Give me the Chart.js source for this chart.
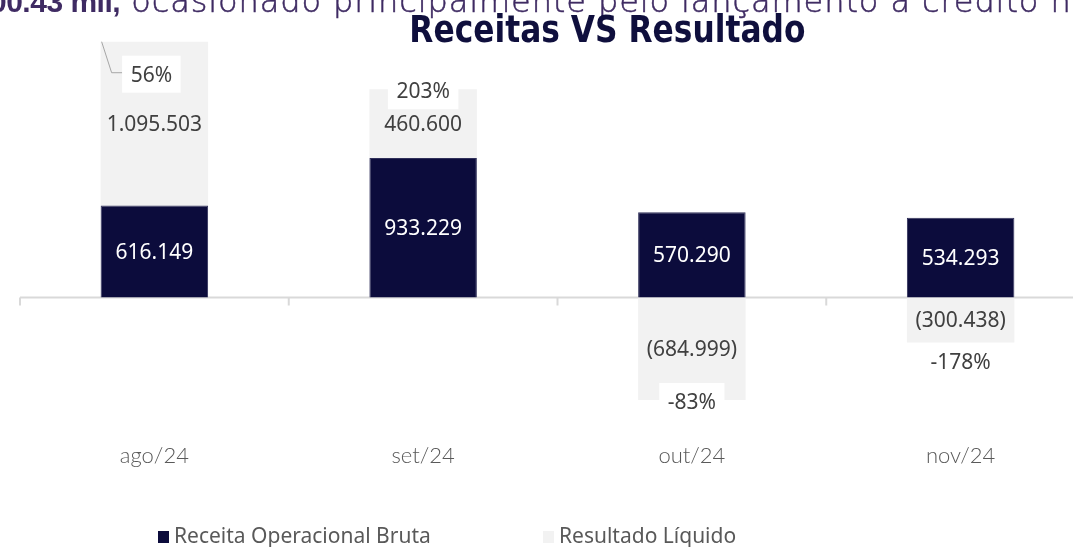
<!DOCTYPE html>
<html>
<head>
<meta charset="utf-8">
<script src="https://cdn.jsdelivr.net/npm/chart.js@4.4.1/dist/chart.umd.min.js"></script>
<style>
html, body { margin: 0; padding: 0; background: #fff; overflow: hidden; }
#wrap { position: relative; width: 1073px; height: 547px; overflow: hidden; }
#box { position: absolute; left: 0; top: 0; width: 1100px; height: 547px; }
#topo { position: absolute; left: -10px; top: -16px; white-space: nowrap; font-family: "DejaVu Sans"; font-weight: 200; font-size: 32px; line-height: 34px; letter-spacing: 0.9px; color: #3f2b63; -webkit-text-stroke: 0.5px #3f2b63; }
#topo b { font-family: "Liberation Sans", sans-serif; font-weight: bold; font-size: 30px; letter-spacing: -0.5px; line-height: 34px; -webkit-text-stroke: 0; }
#titulo { position: absolute; left: 0; width: 1215px; top: 11px; text-align: center; font-family: "DejaVu Sans"; font-weight: bold; font-size: 37px; line-height: 37px; color: #0f0f3d; transform: scaleX(0.846); transform-origin: 607px 0; }
</style>
</head>
<body>
<div id="wrap">
	<div id="box"><canvas id="grafico" width="1100" height="547"></canvas></div>
	<div id="topo"><b>00.43 mil,</b> ocasionado principalmente pelo lançamento a crédito n</div>
	<div id="titulo">Receitas VS Resultado</div>
</div>
<script>
// valores
const meses = ['ago/24', 'set/24', 'out/24', 'nov/24'];
const receita = [616149, 933229, 570290, 534293];
const resultado = [1095503, 460600, -684999, -300438];
const margem = [56, 203, -83, -178];

const corReceita = '#0c0c3c';
const corResultado = '#f2f2f2';

function fmt(v) {
	var s = Math.abs(v).toString().replace(/\B(?=(\d{3})+(?!\d))/g, '.');
	return v < 0 ? '(' + s + ')' : s;
}

// linha do zero, rotulos e legenda
const rotulos = {
	id: 'rotulos',
	beforeDatasetsDraw(chart) {
		const ctx = chart.ctx;
		const x = chart.scales.x, y = chart.scales.y;
		const y0 = y.getPixelForValue(0);
		const passo = x.getPixelForValue(1) - x.getPixelForValue(0);
		ctx.save();
		ctx.strokeStyle = '#d9d9d9';
		ctx.lineWidth = 2;
		ctx.beginPath();
		ctx.moveTo(chart.chartArea.left, y0);
		ctx.lineTo(chart.chartArea.right, y0);
		for (var i = 0; i <= meses.length; i++) {
			var px = x.getPixelForValue(0) - passo / 2 + i * passo;
			ctx.moveTo(px, y0);
			ctx.lineTo(px, y0 + 8);
		}
		ctx.stroke();
		ctx.restore();
	},
	afterDatasetsDraw(chart, args, opts) {
		const ctx = chart.ctx;
		ctx.save();
		ctx.font = '21px "Noto Sans"';
		ctx.textAlign = 'center';
		ctx.textBaseline = 'middle';

		chart.data.datasets.forEach(function(ds, d) {
			chart.getDatasetMeta(d).data.forEach(function(el, i) {
				ctx.fillStyle = d == 0 ? '#ffffff' : '#404040';
				ctx.fillText(fmt(ds.data[i]), el.x, (el.y + el.base) / 2 + 1);
			});
		});

		// margens (receita / resultado)
		chart.getDatasetMeta(1).data.forEach(function(el, i) {
			var off = opts.desloc[i];
			var tx = el.x + off[0], ty = el.y + off[1];
			var txt = margem[i] + '%';
			var w = ctx.measureText(txt).width + 17;
			if (i == 0) {
				var esq = el.x - el.width / 2;
				ctx.strokeStyle = '#a6a6a6';
				ctx.lineWidth = 1;
				ctx.beginPath();
				ctx.moveTo(esq + 1, el.y);
				ctx.lineTo(esq + 11, ty - 2);
				ctx.lineTo(tx - w / 2, ty - 2);
				ctx.stroke();
			}
			ctx.fillStyle = '#ffffff';
			ctx.fillRect(tx - w / 2, ty - 19, w, 37);
			ctx.fillStyle = '#404040';
			ctx.fillText(txt, tx, ty + 1);
		});
		ctx.restore();
	},
	afterDraw(chart, args, opts) {
		const ctx = chart.ctx;
		ctx.save();
		ctx.font = '21px "Noto Sans"';
		ctx.textBaseline = 'middle';
		ctx.textAlign = 'left';
		chart.data.datasets.forEach(function(ds, d) {
			var lx = opts.legendaX[d];
			ctx.fillStyle = ds.backgroundColor;
			ctx.fillRect(lx, opts.legendaY - 6, 11, 12);
			ctx.fillStyle = '#595959';
			ctx.fillText(ds.label, lx + 16, opts.legendaY);
		});
		ctx.restore();
	}
};

new Chart(document.getElementById('grafico'), {
	type: 'bar',
	data: {
		labels: meses,
		datasets: [{
			label: 'Receita Operacional Bruta',
			data: receita,
			backgroundColor: corReceita,
			borderColor: '#30305a',
			borderWidth: 1,
			barPercentage: 0.4,
			categoryPercentage: 1.0
		}, {
			label: 'Resultado Líquido',
			data: resultado,
			backgroundColor: corResultado,
			borderWidth: 0,
			barPercentage: 0.4,
			categoryPercentage: 1.0
		}]
	},
	options: {
		responsive: false,
		animation: false,
		devicePixelRatio: 1,
		layout: {
			padding: { left: 20, right: 5, top: 30, bottom: 78 }
		},
		scales: {
			x: {
				stacked: true,
				grid: { display: false, drawTicks: false },
				border: { display: false },
				ticks: {
					padding: 0,
					color: '#595959',
					font: { family: 'Lato', size: 22, weight: 300 }
				}
			},
			y: {
				stacked: true,
				display: false,
				min: -970000,
				max: 1790000
			}
		},
		plugins: {
			legend: { display: false },
			tooltip: { enabled: false },
			rotulos: {
				desloc: [[-3, 33], [0, 2], [0, 2], [0, 20]],
				legendaX: [158, 543],
				legendaY: 537
			}
		}
	},
	plugins: [rotulos]
});
</script>
</body>
</html>
